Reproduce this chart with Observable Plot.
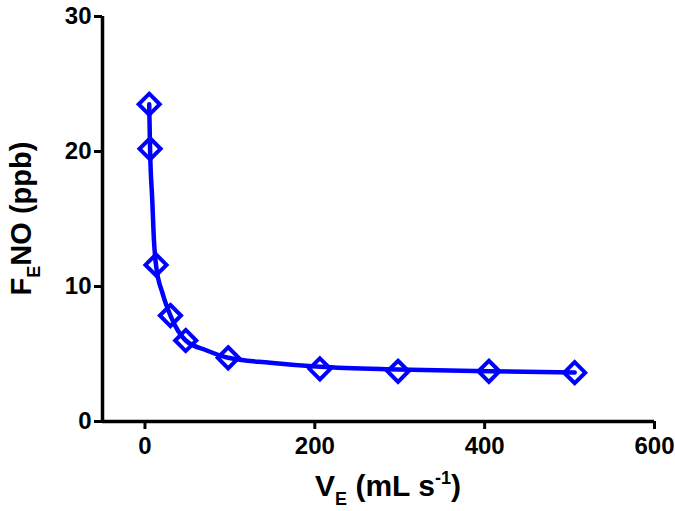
<!DOCTYPE html>
<html>
<head>
<meta charset="utf-8">
<script src="https://cdn.jsdelivr.net/npm/d3@7"></script>
<script src="https://cdn.jsdelivr.net/npm/@observablehq/plot@0.6"></script>
<style>
  html, body { margin: 0; padding: 0; background: white; }
</style>
</head>
<body>
<div id="chart"></div>
<script>
// Measured points
const flowVE = [5, 6, 13, 30, 48, 98, 206, 298, 405, 506];
const fenoPPB = [23.5, 20.2, 11.6, 7.85, 6.0, 4.72, 3.9, 3.72, 3.72, 3.62];

// Fitted curve
const curveVE = [5, 6, 8.6, 10.6, 13, 20.9, 30, 48, 72.8, 98, 147.5, 206, 298, 405, 506];
const curveFeno = [23.5, 20.2, 16.4, 13.4, 11.6, 9.45, 7.85, 6.0, 5.26, 4.72, 4.35, 4.05, 3.85, 3.72, 3.63];

// Axis ticks
const xTicks = [0, 200, 400, 600];
const yTicks = [0, 10, 20, 30];

const points = flowVE.map((v, i) => ({x: v, y: fenoPPB[i]}));
const curve = curveVE.map((v, i) => ({x: v, y: curveFeno[i]}));

const W = 675, H = 511;
const mL = 102, mR = 21, mT = 16, mB = 90;
const blue = "#0000ff";

const plot = Plot.plot({
  width: W,
  height: H,
  marginLeft: mL,
  marginRight: mR,
  marginTop: mT,
  marginBottom: mB,
  style: {
    fontFamily: "Arial, 'Liberation Sans', sans-serif",
    fontSize: "24px",
    fontWeight: "bold",
    color: "black",
    background: "white"
  },
  x: {domain: [-50, 600]},
  y: {domain: [0, 30]},
  marks: [
    Plot.axisX({ticks: xTicks, tickSize: 8, tickPadding: 7, strokeWidth: 3, label: null, fontSize: 24, fontWeight: "bold"}),
    Plot.axisY({ticks: yTicks, tickSize: 8, tickPadding: 3, strokeWidth: 3, label: null, fontSize: 24, fontWeight: "bold"}),
    Plot.ruleX([-50], {y1: 0, y2: 30, stroke: "black", strokeWidth: 3.5}),
    Plot.ruleY([0], {x1: -50, x2: 600, stroke: "black", strokeWidth: 3.5}),
    Plot.line(curve, {x: "x", y: "y", stroke: blue, strokeWidth: 4.5, curve: "monotone-x"}),
    Plot.dot(points, {x: "x", y: "y", symbol: "diamond2", r: 9.5, stroke: blue, strokeWidth: 4, fill: "none"})
  ]
});

const svg = d3.select(plot);
const font = "Arial, 'Liberation Sans', sans-serif";

// X-axis title: V_E (mL s^-1)
const xl = svg.append("text")
  .attr("x", (mL + W - mR) / 2 + 10)
  .attr("y", H - 15)
  .attr("text-anchor", "middle")
  .attr("font-family", font)
  .attr("font-weight", "bold")
  .attr("font-size", 30)
  .attr("fill", "black");
xl.append("tspan").text("V");
xl.append("tspan").attr("font-size", 18).attr("dy", 9).text("E");
xl.append("tspan").attr("dy", -9).text(" (mL s");
xl.append("tspan").attr("font-size", 18).attr("dy", -12).text("-1");
xl.append("tspan").attr("dy", 12).text(")");

// Y-axis title: F_E NO (ppb)
const yl = svg.append("text")
  .attr("transform", `translate(31,${(mT + H - mB) / 2}) rotate(-90)`)
  .attr("text-anchor", "middle")
  .attr("font-family", font)
  .attr("font-weight", "bold")
  .attr("font-size", 29)
  .attr("fill", "black");
yl.append("tspan").text("F");
yl.append("tspan").attr("font-size", 18).attr("dy", 9).text("E");
yl.append("tspan").attr("dy", -9).text("NO (ppb)");

document.getElementById("chart").appendChild(plot);
</script>
</body>
</html>
